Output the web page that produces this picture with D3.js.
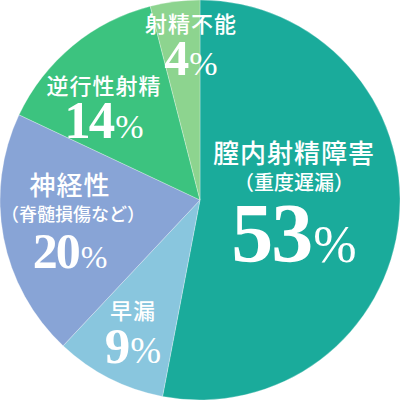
<!DOCTYPE html>
<html>
<head>
<meta charset="utf-8">
<script src="https://cdn.jsdelivr.net/npm/d3@7"></script>
<style>
  html, body { margin: 0; padding: 0; background: #fff; }
  svg { display: block; }
</style>
</head>
<body>
<div id="chart"></div>
<script>
// data
const categories = ['膣内射精障害', '早漏', '神経性', '逆行性射精', '射精不能'];
const subLabels = ['（重度遅漏）', '', '（脊髄損傷など）', '', ''];
const values = [53, 9, 20, 14, 4];
const colors = ['#1aab9b', '#89c6de', '#88a4d6', '#3cc37f', '#8dd48f'];

const width = 400;
const height = 400;
const radius = 200;

// label placement (x, baselines, font sizes) per slice, in svg px
const labelLayout = [
    {x: 294, name: 163, nameSize: 26, sub: 190, subSize: 20, num: 262, numSize: 84, pctSize: 52},
    {x: 133, name: 319, nameSize: 22, num: 363, numSize: 51, pctSize: 37},
    {x: 70, subX: 73, name: 195, nameSize: 26, sub: 221, subSize: 18, num: 268, numSize: 50, pctSize: 32},
    {x: 104, name: 94, nameSize: 22, num: 138, numSize: 53, pctSize: 34},
    {x: 191, name: 32, nameSize: 22, num: 75, numSize: 50, pctSize: 34}
];

const svg = d3.select('#chart')
    .append('svg')
    .attr('width', width)
    .attr('height', height);

const g = svg.append('g')
    .attr('transform', `translate(${width / 2},${height / 2})`);

const pie = d3.pie().sort(null).value(d => d);
const arc = d3.arc().innerRadius(0).outerRadius(radius);

const arcs = pie(values);

g.selectAll('path')
    .data(arcs)
    .join('path')
    .attr('d', arc)
    .attr('fill', (d, i) => colors[i])
    .attr('stroke', 'rgba(255,255,255,0.35)')
    .attr('stroke-width', 0.8);

const cjk = '"Noto Sans CJK JP", "Noto Sans", sans-serif';
const serif = '"Liberation Serif", "DejaVu Serif", serif';

const labels = svg.append('g');

categories.forEach((name, i) => {
    const L = labelLayout[i];

    labels.append('text')
        .attr('x', L.x)
        .attr('y', L.name)
        .attr('text-anchor', 'middle')
        .attr('fill', '#fff')
        .style('font-family', cjk)
        .style('font-weight', 500)
        .style('font-size', L.nameSize + 'px')
        .style('letter-spacing', '1px')
        .text(name);

    if (subLabels[i]) {
        labels.append('text')
            .attr('x', L.subX || L.x)
            .attr('y', L.sub)
            .attr('text-anchor', 'middle')
            .attr('fill', '#fff')
            .style('font-family', cjk)
            .style('font-weight', 500)
            .style('font-size', L.subSize + 'px')
            .text(subLabels[i]);
    }

    const num = labels.append('text')
        .attr('x', L.x)
        .attr('y', L.num)
        .attr('text-anchor', 'middle')
        .attr('fill', '#fff')
        .style('font-family', serif);

    num.append('tspan')
        .style('font-weight', 'bold')
        .style('font-size', L.numSize + 'px')
        .style('letter-spacing', '-2px')
        .text(values[i]);

    num.append('tspan')
        .attr('dx', 2)
        .style('font-size', L.pctSize + 'px')
        .text('%');
});
</script>
</body>
</html>
